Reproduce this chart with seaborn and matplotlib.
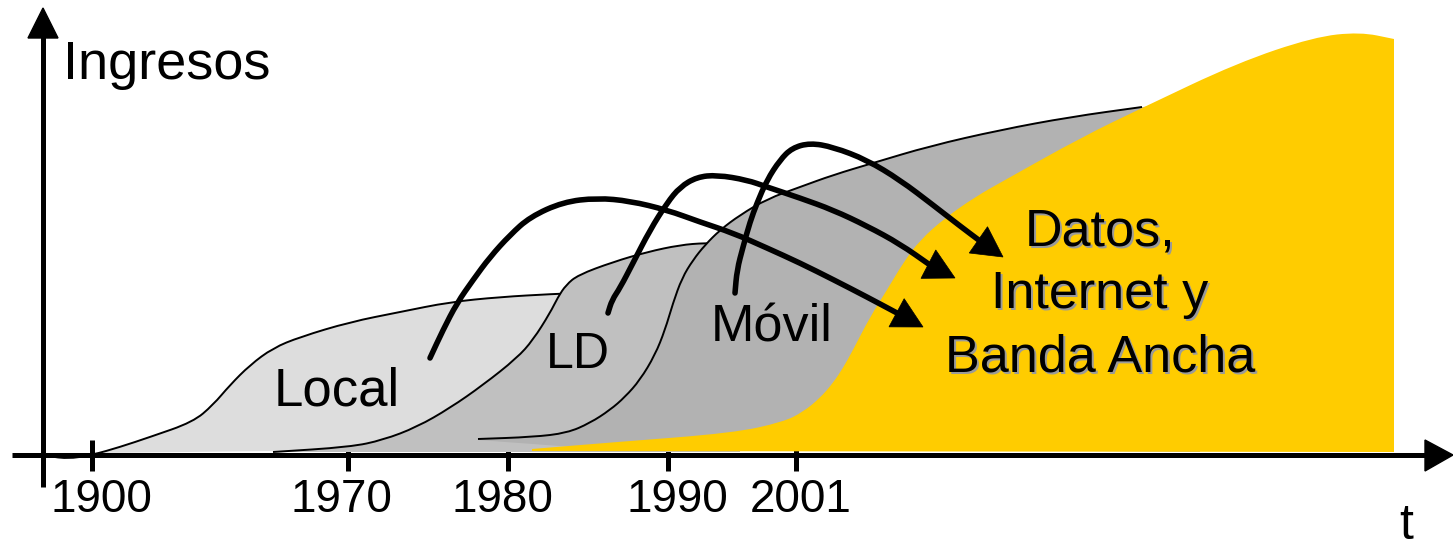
import numpy as np
import matplotlib
matplotlib.use("Agg")
import matplotlib.pyplot as plt
from matplotlib.path import Path
from matplotlib.patches import PathPatch, Polygon
import seaborn as sns

sns.set_theme(style="white")
plt.rcParams['font.family'] = ['Liberation Sans', 'DejaVu Sans']

# ---------------- data (diagram space: x = time, y = screen-like, grows downward) -------------
tick_labels = ["1900", "1970", "1980", "1990", "2001"]
tick_pos = [92, 348, 508, 668, 796]
tick_label_pos = [101, 341, 502, 677, 801]

local_x = [43, 67, 92, 120, 150, 193, 213, 230, 250, 273, 300, 350, 400, 450, 500, 553, 580]
local_y = [455, 459, 455, 447, 437, 422, 405, 385, 365, 348, 337, 322, 312, 302, 297, 294, 293]

ld_x = [273, 350, 383, 417, 450, 483, 517, 533, 550, 558, 566, 578, 613, 647, 680, 705, 740]
ld_y = [452, 447, 440, 427, 408, 385, 358, 340, 313, 297, 285, 275, 262, 252, 245, 243, 243]

movil_x = [478, 533, 567, 590, 610, 625, 640, 655, 665, 673, 682, 693, 705, 720, 740, 767, 800,
           833, 873, 930, 1000, 1070, 1142, 1200]
movil_y = [439, 437, 433, 423, 410, 397, 380, 355, 330, 303, 278, 260, 245, 230, 215, 199, 187,
           175, 163, 146, 130, 117, 107, 100]

datos_x = [532, 617, 733, 783, 803, 820, 833, 843, 853, 870, 887, 903, 920, 945, 975, 1005, 1082,
           1144, 1237, 1314, 1360, 1394]
datos_y = [449, 442, 433, 422, 412, 398, 383, 368, 350, 317, 290, 263, 240, 218, 197, 180, 137,
           107, 63, 37, 32, 39]

arrow1_x = [430, 443, 457, 473, 490, 510, 530, 563, 597, 630, 667, 700, 733, 767, 800, 834, 867, 897]
arrow1_y = [358, 330, 303, 280, 257, 235, 217, 202, 198, 201, 210, 222, 233, 248, 263, 280, 297, 313]
arrow1_tip = (923, 327)

arrow2_x = [608, 612, 620, 633, 650, 667, 680, 697, 717, 747, 767, 800, 833, 867, 900, 930]
arrow2_y = [313, 300, 288, 263, 230, 203, 187, 177, 175, 180, 187, 198, 210, 226, 244, 265]
arrow2_tip = (955, 278)

arrow3_x = [735, 737, 743, 750, 757, 767, 780, 792, 810, 833, 867, 900, 933, 960, 980]
arrow3_y = [293, 270, 247, 222, 203, 180, 160, 148, 143, 147, 160, 180, 205, 226, 241]
arrow3_tip = (1003, 257)

area_labels = ["Local", "LD", "Móvil"]
datos_lines = ["Datos,", "Internet y", "Banda Ancha"]

BASE = 452
C_LOCAL, C_LD, C_MOVIL, C_DATOS = "#dddddd", "#c0c0c0", "#b2b2b2", "#ffcc00"


def smooth(xs, ys):
    pts = list(zip(xs, ys))
    verts = [pts[0]]
    codes = [Path.MOVETO]
    mid = lambda a, b: ((a[0] + b[0]) / 2, (a[1] + b[1]) / 2)
    verts.append(mid(pts[0], pts[1]))
    codes.append(Path.LINETO)
    for i in range(1, len(pts) - 1):
        verts += [pts[i], mid(pts[i], pts[i + 1])]
        codes += [Path.CURVE3, Path.CURVE3]
    verts.append(pts[-1])
    codes.append(Path.LINETO)
    return verts, codes


def area(ax, xs, ys, color, bottom, z):
    v, c = smooth(xs, ys)
    v = v + bottom + [v[0]]
    c = c + [Path.LINETO] * len(bottom) + [Path.CLOSEPOLY]
    ax.add_patch(PathPatch(Path(v, c), facecolor=color, edgecolor="none", zorder=z))


def outline(ax, xs, ys, z, lw=1.4):
    v, c = smooth(xs, ys)
    ax.add_patch(PathPatch(Path(v, c), facecolor="none", edgecolor="black", lw=lw, zorder=z,
                           capstyle="butt"))


def arrow(ax, xs, ys, tip, z):
    v, c = smooth(xs, ys)
    ax.add_patch(PathPatch(Path(v, c), facecolor="none", edgecolor="black", lw=4.0, zorder=z,
                           capstyle="round", joinstyle="round"))
    bx, by = xs[-1], ys[-1]
    d = np.array([tip[0] - bx, tip[1] - by], float)
    d /= np.linalg.norm(d)
    n = np.array([-d[1], d[0]])
    L, W = 30, 16
    base = np.array(tip) - L * d
    tri = [tip, base + W * n, base - W * n]
    ax.add_patch(Polygon(tri, closed=True, facecolor="black", edgecolor="black", lw=0.5, zorder=z))


fig = plt.figure(figsize=(14.53, 5.5), dpi=100)
ax = fig.add_axes([0, 0, 1, 1])
ax.set_xlim(0, 1453)
ax.set_ylim(550, 0)
ax.axis("off")

# ticks (below fills)
for x in tick_pos:
    ax.plot([x, x], [440, 471], color="black", lw=3.6, solid_capstyle="butt", zorder=1)

# areas
area(ax, local_x, local_y, C_LOCAL, [(local_x[-1], BASE), (273, 451), (100, 453)], 2)
outline(ax, local_x, local_y, 2.5)
area(ax, ld_x, ld_y, C_LD, [(ld_x[-1], BASE), (ld_x[0], BASE)], 3)
outline(ax, ld_x, ld_y, 3.5)
area(ax, movil_x, movil_y, C_MOVIL, [(movil_x[-1], BASE), (560, 446), (478, 440)], 4)
outline(ax, movil_x[:-1], movil_y[:-1], 4.5)
area(ax, datos_x, datos_y, C_DATOS, [(datos_x[-1], BASE), (datos_x[0], 451)], 5)

# axes with arrowheads
ax.plot([12, 1428], [455, 455], color="black", lw=3.6, solid_capstyle="butt", zorder=6)
ax.add_patch(Polygon([(1453, 455), (1425, 440), (1425, 471)], closed=True, color="black", zorder=6))
ax.plot([43, 43], [487, 36], color="black", lw=3.6, solid_capstyle="butt", zorder=6)
ax.add_patch(Polygon([(43, 8), (28, 38), (58, 38)], closed=True, color="black", zorder=6))

# arrows
arrow(ax, arrow1_x, arrow1_y, arrow1_tip, 8)
arrow(ax, arrow2_x, arrow2_y, arrow2_tip, 8)
arrow(ax, arrow3_x, arrow3_y, arrow3_tip, 8)

# texts
for lab, x in zip(tick_labels, tick_label_pos):
    ax.text(x, 512, lab, ha="center", va="baseline", fontsize=33, color="black", zorder=9)
ax.text(63, 79, "Ingresos", ha="left", va="baseline", fontsize=39, color="black", zorder=9)
ax.text(1406, 539, "t", ha="center", va="baseline", fontsize=36, color="black", zorder=9)

for lab, (x, y, fs) in zip(area_labels, [(337, 405, 38), (578, 368, 36), (772, 341, 37.5)]):
    ax.text(x, y, lab, ha="center", va="baseline", fontsize=fs, color="black", zorder=9)

for lab, y in zip(datos_lines, [245, 308, 372]):
    ax.text(1102, y + 2, lab, ha="center", va="baseline", fontsize=37.5, color="#9a9a9a", zorder=9)
    ax.text(1100, y, lab, ha="center", va="baseline", fontsize=37.5, color="black", zorder=10)

fig.savefig("out.png", dpi=100, facecolor="white")
